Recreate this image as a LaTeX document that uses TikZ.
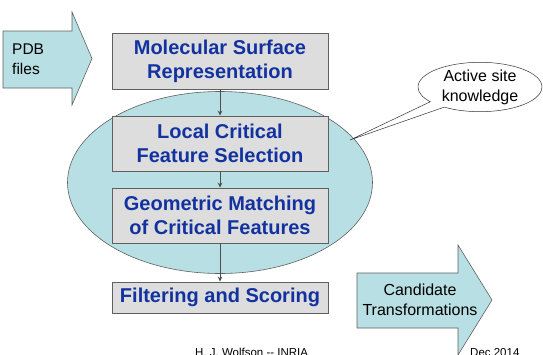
\documentclass[tikz,border=0pt]{standalone}
\usepackage{fontspec}
\setmainfont{Liberation Sans}
\usetikzlibrary{shapes.geometric,shapes.callouts,arrows.meta}
\definecolor{cyanfill}{RGB}{184,223,227}
\definecolor{boxfill}{RGB}{221,221,221}
\definecolor{boxline}{RGB}{96,96,96}
\definecolor{titleblue}{RGB}{18,50,160}
\tikzset{
  stepbox/.style={draw=boxline, line width=0.9pt, fill=boxfill, minimum width=216pt, align=center,
    font=\fontsize{20}{24}\selectfont\bfseries, text=titleblue, inner sep=0pt},
  flow/.style={draw=boxline!80!black, line width=0.7pt, -{Stealth[length=5pt,width=4.5pt,fill=black]}},
  bigarrow/.style={draw=boxline, line width=0.6pt, fill=cyanfill},
  plain/.style={font=\fontsize{16}{20}\selectfont, align=center, inner sep=0pt}
}
\begin{document}
\begin{tikzpicture}[x=1pt,y=-1pt]
\useasboundingbox (0,0) rectangle (543,354);
% PDB arrow
\draw[bigarrow] (3,31) -- (72,31) -- (72,12) -- (92,58.5) -- (72,105) -- (72,88) -- (3,88) -- cycle;
\node[font=\fontsize{15.5}{20}\selectfont, align=left, anchor=west, inner sep=0pt] (pdb) at (12,59) {PDB\\files};
% ellipse
\node[draw=boxline, line width=0.6pt, fill=cyanfill, ellipse, minimum width=305pt, minimum height=182pt, inner sep=0pt] (ell) at (220,182.5) {};
% boxes
\node[stepbox, minimum height=56pt] (msr) at (220,61) {Molecular Surface\\Representation};
\node[stepbox, minimum height=55pt] (lcf) at (220,143.5) {Local Critical\\Feature Selection};
\node[stepbox, minimum height=55pt] (gm) at (220,215.5) {Geometric Matching\\of Critical Features};
\node[stepbox, minimum height=31pt] (fs) at (220,297.5) {Filtering and Scoring};
\draw[flow] (msr.south) -- (lcf.north);
\draw[flow] (lcf.south) -- (gm.north);
\draw[flow] (gm.south) -- (fs.north);
% callout
\coordinate (ptr) at (350,140);
\node[ellipse callout, draw=black!80, line width=0.5pt, fill=white, minimum width=124pt, minimum height=44pt,
  callout absolute pointer={(ptr)}, callout pointer arc=18, plain, inner sep=0pt] (act) at (480,87) {Active site\\knowledge};
% candidate arrow
\draw[bigarrow] (357,273) -- (458,273) -- (458,245) -- (492,300) -- (458,355) -- (458,328) -- (357,328) -- cycle;
\node[plain] (cand) at (420,300) {Candidate\\Transformations};
% footer
\node[font=\fontsize{11.5}{14}\selectfont, anchor=base west, inner sep=0pt] (auth) at (195,356.5) {H. J. Wolfson -{}- INRIA};
\node[font=\fontsize{11.5}{14}\selectfont, anchor=base west, inner sep=0pt] (date) at (470,356.5) {Dec 2014};
\end{tikzpicture}
\end{document}
